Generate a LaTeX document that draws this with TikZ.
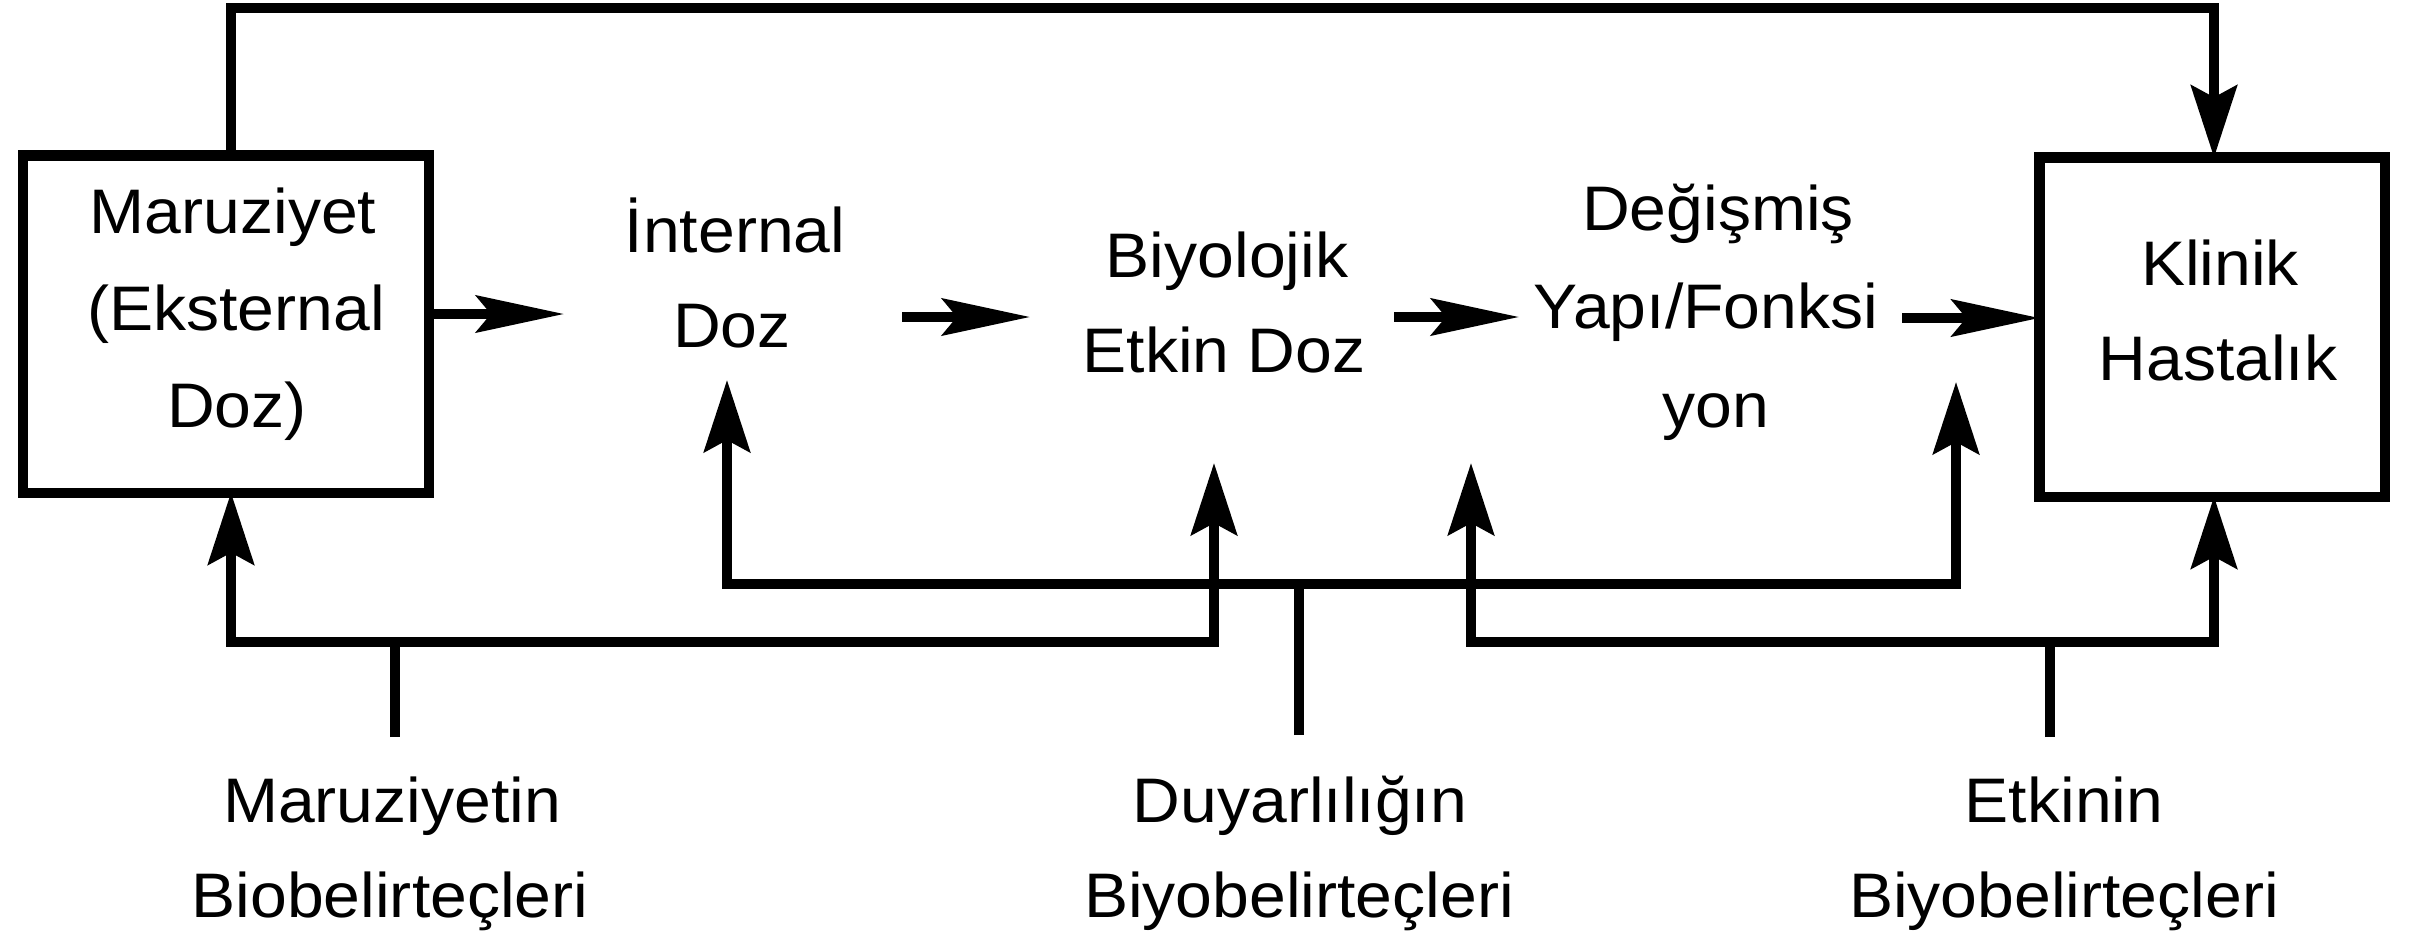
\documentclass[tikz,border=0pt]{standalone}
\usepackage{fontspec}
\setmainfont{Liberation Sans}[FakeStretch=1.05]
\usetikzlibrary{arrows.meta}
\begin{document}
\begin{tikzpicture}[x=0.01cm,y=-0.01cm,
  boxed/.style={draw, line width=2.9pt, inner sep=0pt, outer sep=0pt},
  lbl/.style={anchor=base, inner sep=0pt, outer sep=0pt, font=\fontsize{17.9pt}{20pt}\selectfont},
  conn/.style={line width=2.6pt},
  harr/.style={conn, -{Stealth[length=0.88cm,width=0.37cm,inset=0.15cm]}},
  varr/.style={conn, -{Stealth[length=0.72cm,width=0.46cm,inset=0.12cm]}}]
\useasboundingbox (0,0) rectangle (2410,936);
% boxes
\node[boxed, minimum width=4.06cm, minimum height=3.37cm] (mar) at (226,324) {};
\node[boxed, minimum width=3.45cm, minimum height=3.39cm] (kh) at (2212,327) {};
% texts
\node[lbl] (m1) at (233,233) {Maruziyet};
\node[lbl] (m2) at (236,330) {(Eksternal};
\node[lbl] (m3) at (237,427) {Doz)};
\node[lbl] (int1) at (735,252) {İnternal};
\node[lbl] (int2) at (732,347) {Doz};
\node[lbl] (bio1) at (1227,277) {Biyolojik};
\node[lbl] (bio2) at (1224,372) {Etkin Doz};
\node[lbl] (deg1) at (1718,230) {Değişmiş};
\node[lbl] (deg2) at (1706,328) {Yapı/Fonksi};
\node[lbl] (deg3) at (1716,427) {yon};
\node[lbl] (kl1) at (2220,285) {Klinik};
\node[lbl] (kl2) at (2218,380) {Hastalık};
\node[lbl] (mb1) at (392,822) {Maruziyetin};
\node[lbl] (mb2) at (390,917) {Biobelirteçleri};
\node[lbl] (db1) at (1300,822) {Duyarlılığın};
\node[lbl] (db2) at (1299,917) {Biyobelirteçleri};
\node[lbl] (eb1) at (2064,822) {Etkinin};
\node[lbl] (eb2) at (2064,917) {Biyobelirteçleri};
% coordinates
\coordinate (tl) at (231,8);
\coordinate (tr) at (2214,8);
\coordinate (h1e) at (564,314);
\coordinate (h2s) at (902,317);
\coordinate (h2e) at (1030,317);
\coordinate (h3s) at (1394,317);
\coordinate (h3e) at (1519,317);
\coordinate (h4s) at (1902,318);
\coordinate (intup) at (727,380);
\coordinate (bioup) at (1214,463);
\coordinate (etkup) at (1471,463);
\coordinate (yapup) at (1956,382);
\coordinate (mj) at (395,642);
\coordinate (ms) at (395,737);
\coordinate (dj) at (1299,584);
\coordinate (ds) at (1299,735);
\coordinate (ej) at (2050,642);
\coordinate (es) at (2050,737);
% top connector
\draw[varr] (mar.north -| tl) -- (tl) -- (tr) -- (kh.north -| tr);
% horizontal chain
\draw[harr] (mar.east |- h1e) -- (h1e);
\draw[harr] (h2s) -- (h2e);
\draw[harr] (h3s) -- (h3e);
\draw[harr] (h4s) -- (kh.west |- h4s);
% exposure biomarkers
\draw[conn] (ms) -- (mj);
\draw[varr] (mj) -| (mar.south -| tl);
\draw[varr] (mj) -| (bioup);
% susceptibility biomarkers
\draw[conn] (ds) -- (dj);
\draw[varr] (dj) -| (intup);
\draw[varr] (dj) -| (yapup);
% effect biomarkers
\draw[conn] (es) -- (ej);
\draw[varr] (ej) -| (etkup);
\draw[varr] (ej) -| (kh.south -| tr);
\end{tikzpicture}
\end{document}
